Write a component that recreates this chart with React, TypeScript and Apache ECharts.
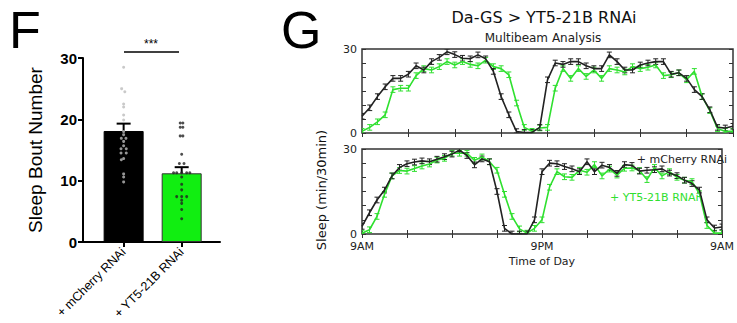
import React, { useEffect, useRef } from "react";
import * as echarts from "echarts";

// ---------- Panel F data ----------
const BAR_CATEGORIES = ["+ mCherry RNAi", "+ YT5-21B RNAi"];
const BAR_MEANS = [18.1, 11.2];
const BAR_SEMS = [1.2, 1.0];
const MCHERRY_DOTS = [28.5, 25, 24.5, 22.5, 22, 20.7, 19.9, 18, 17.5, 16.9, 16.9, 16.4, 15.7, 15.2, 15.2, 14.5, 14.5, 13.6, 13.4, 11.1, 10.6, 9.8];
const MCHERRY_JITTER = [0, -0.035, 0.02, 0, 0, 0, 0, 0, 0, -0.04, 0.04, 0, 0, -0.045, 0.045, -0.045, 0.045, 0, -0.04, 0, 0, 0];
const YT5_DOTS = [19.4, 19.4, 18.7, 18.7, 17.3, 17.3, 14.3, 12.8, 12.8, 11.3, 11.3, 11.3, 11.3, 11.3, 10.6, 9.4, 8.5, 7.4, 7.4, 7.4, 6.8, 6.3, 5.3, 3.8];
const YT5_JITTER = [-0.025, 0.02, -0.025, 0.02, -0.025, 0.02, 0, -0.04, 0.04, -0.14, -0.086, 0, 0.086, 0.14, 0, 0, 0, -0.086, 0, 0.086, 0, 0, 0, 0];

// ---------- Panel G data (sleep min/30min, 9AM -> 9AM, 30-min bins) ----------
const TOP_BLACK = [6, 9, 13, 16.5, 19.5, 19.5, 21, 24, 22.5, 25.5, 27, 29, 28, 26.7, 26.5, 27.9, 26.5, 22, 13, 6.5, 0.5, 0.2, 0.2, 2, 19, 25, 24.5, 25.5, 25.5, 24, 23, 23, 27.9, 25.5, 22.5, 22.5, 24.3, 25, 25.5, 25.5, 21, 21.5, 19.5, 15.5, 13, 8.3, 2, 1.8, 2.4];
const TOP_GREEN = [0.6, 2, 4, 6.5, 15.5, 16, 16, 20.5, 23, 22.5, 23.7, 25.5, 24.3, 25.5, 24.5, 24, 26, 23.7, 23, 20.8, 10.7, 2, 0.6, 1.8, 2, 16, 23, 19.5, 23, 20.2, 22.5, 19.5, 23, 22.5, 21.8, 23.7, 23, 23.5, 24.3, 20.5, 20.8, 21.5, 19, 22, 13, 8, 1.5, 0.6, 0.6];
const BOT_BLACK = [2.7, 7.5, 12, 15.5, 20.5, 23.5, 24.8, 25.4, 25.8, 25.5, 26.4, 27.3, 28.2, 29.6, 27.7, 24.4, 26.5, 25.5, 15, 2, 0, 0, 0, 5, 22, 25, 24.8, 23.8, 23, 22, 25.5, 22, 24.3, 23.5, 21.4, 24.5, 24.2, 22.2, 22.5, 22.7, 23, 21.5, 20.6, 19, 17.8, 15.5, 5, 2.1, 2.5];
const BOT_GREEN = [0.3, 1.5, 6.2, 14, 20.5, 22.4, 22.2, 23.1, 24, 24.7, 26.1, 26.7, 28.5, 28.5, 28.5, 26, 27.2, 25.5, 22.5, 14, 6.2, 1.8, 0.3, 2, 5, 16.5, 22, 20.2, 20, 22.5, 21.8, 24.5, 20.5, 22.9, 20.8, 23.2, 23.3, 22.4, 19.2, 23.5, 20.5, 22, 20, 19, 18.5, 14.2, 3, 0.3, 0.3];
const SEM_G = 1.0;
const TIME_LABELS: Record<number, string> = { 0: "9AM", 12: "9PM", 24: "9AM" };

const FONT_F = "'Liberation Sans', Arial, sans-serif";
const FONT_G = "'DejaVu Sans', sans-serif";
const BLACK = "#222222";
const GREEN = "#2fe02f";

export default function App() {
  const ref = useRef<HTMLDivElement>(null);
  useEffect(() => {
    if (!ref.current) return;
    const chart = echarts.init(ref.current, null, { renderer: "svg" });
    const hours = TOP_BLACK.map((_, i) => i * 0.5);

    const errRenderG = (color: string) => (params: any, api: any) => {
      const x = api.value(0), v = api.value(1), e = api.value(2);
      const a = api.coord([x, v + e]);
      const b = api.coord([x, Math.max(v - e, 0)]);
      const hw = 2.5;
      const st = { stroke: color, lineWidth: 1 };
      return {
        type: "group",
        children: [
          { type: "line", shape: { x1: a[0], y1: a[1], x2: b[0], y2: b[1] }, style: st },
          { type: "line", shape: { x1: a[0] - hw, y1: a[1], x2: a[0] + hw, y2: a[1] }, style: st },
          { type: "line", shape: { x1: b[0] - hw, y1: b[1], x2: b[0] + hw, y2: b[1] }, style: st },
        ],
      };
    };

    const gXAxis = (gridIndex: number, position: string, labels: boolean) => ({
      type: "value",
      gridIndex,
      position,
      min: 0,
      max: 24,
      interval: 3,
      axisLine: { show: false },
      axisTick: { show: true, inside: true, length: 4, lineStyle: { color: "#333", width: 1 } },
      axisLabel: labels
        ? {
            show: true,
            showMaxLabel: true,
            margin: 7,
            fontFamily: FONT_G,
            fontSize: 11,
            color: "#222",
            formatter: (v: number) => TIME_LABELS[v] ?? "",
          }
        : { show: false },
      splitLine: { show: false },
      ...(labels
        ? {
            name: "Time of Day",
            nameLocation: "middle",
            nameGap: 22,
            nameTextStyle: { fontFamily: FONT_G, fontSize: 11, color: "#222" },
          }
        : {}),
    });
    const gYAxis = (gridIndex: number, position: string, labels: boolean) => ({
      type: "value",
      gridIndex,
      position,
      min: 0,
      max: 30,
      interval: 5,
      axisLine: { show: false, onZero: false },
      axisTick: { show: true, inside: true, length: 4, lineStyle: { color: "#333", width: 1 } },
      axisLabel: labels
        ? {
            show: true,
            margin: 5,
            fontFamily: FONT_G,
            fontSize: 11,
            color: "#222",
            formatter: (v: number) => (v === 0 || v === 30 ? String(v) : ""),
          }
        : { show: false },
      splitLine: { show: false },
    });

    const line = (data: number[], color: string, xi: number, yi: number) => ({
      type: "line",
      xAxisIndex: xi,
      yAxisIndex: yi,
      data: hours.map((h, i) => [h, data[i]]),
      showSymbol: false,
      lineStyle: { color, width: 1.6 },
      itemStyle: { color },
      z: 3,
    });
    const errs = (data: number[], color: string, xi: number, yi: number) => ({
      type: "custom",
      xAxisIndex: xi,
      yAxisIndex: yi,
      clip: true,
      data: hours.map((h, i) => [h, data[i], SEM_G]),
      encode: { x: 0, y: 1 },
      renderItem: errRenderG(color),
      z: 3,
    });

    chart.setOption({
      animation: false,
      grid: [
        { left: 83, top: 58, width: 137, height: 184 },
        { left: 362, top: 49, width: 371, height: 84, show: true, borderColor: "#333", borderWidth: 1.5 },
        { left: 362, top: 149, width: 371, height: 85, show: true, borderColor: "#333", borderWidth: 1.5 },
      ],
      xAxis: [
        {
          type: "value",
          gridIndex: 0,
          min: -0.7,
          max: 1.66,
          axisLine: { show: true, onZero: false, lineStyle: { color: "#000", width: 2 } },
          axisTick: { show: true, customValues: [0, 1], length: 5, lineStyle: { color: "#000", width: 2 } },
          axisLabel: {
            customValues: [0, 1],
            rotate: 45,
            margin: 8,
            fontFamily: FONT_F,
            fontSize: 12.5,
            color: "#000",
            formatter: (v: number) => BAR_CATEGORIES[Math.round(v)] ?? "",
          },
          splitLine: { show: false },
        },
        gXAxis(1, "bottom", false),
        gXAxis(1, "top", false),
        gXAxis(2, "bottom", true),
        gXAxis(2, "top", false),
      ],
      yAxis: [
        {
          type: "value",
          gridIndex: 0,
          min: 0,
          max: 30,
          interval: 10,
          axisLine: { show: true, onZero: false, lineStyle: { color: "#000", width: 2 } },
          axisTick: { show: true, length: 5, lineStyle: { color: "#000", width: 2 } },
          axisLabel: { fontFamily: FONT_F, fontSize: 15, fontWeight: "bold", color: "#000", margin: 6 },
          splitLine: { show: false },
          name: "Sleep Bout Number",
          nameLocation: "middle",
          nameGap: 38,
          nameTextStyle: { fontFamily: FONT_F, fontSize: 19, color: "#000" },
        },
        gYAxis(1, "left", true),
        gYAxis(1, "right", false),
        gYAxis(2, "left", true),
        gYAxis(2, "right", false),
      ],
      series: [
        {
          type: "bar",
          xAxisIndex: 0,
          yAxisIndex: 0,
          barWidth: 40,
          data: [
            { value: [0, BAR_MEANS[0]], itemStyle: { color: "#000", borderColor: "#000", borderWidth: 1 } },
            { value: [1, BAR_MEANS[1]], itemStyle: { color: "#11ee11", borderColor: "#333", borderWidth: 1 } },
          ],
          z: 2,
        },
        {
          type: "custom",
          xAxisIndex: 0,
          yAxisIndex: 0,
          data: BAR_MEANS.map((m, i) => [i, m, BAR_SEMS[i]]),
          encode: { x: 0, y: 1 },
          renderItem: (params: any, api: any) => {
            const x = api.value(0), m = api.value(1), s = api.value(2);
            const p0 = api.coord([x, m]);
            const p1 = api.coord([x, m + s]);
            const st = { stroke: "#000", lineWidth: 2 };
            return {
              type: "group",
              children: [
                { type: "line", shape: { x1: p0[0], y1: p0[1], x2: p1[0], y2: p1[1] }, style: st },
                { type: "line", shape: { x1: p1[0] - 7, y1: p1[1], x2: p1[0] + 7, y2: p1[1] }, style: st },
              ],
            };
          },
          z: 3,
        },
        {
          type: "scatter",
          xAxisIndex: 0,
          yAxisIndex: 0,
          symbolSize: 3,
          itemStyle: { color: "#bbbbbb" },
          data: MCHERRY_DOTS.map((v, i) => [MCHERRY_JITTER[i], v]),
          z: 4,
        },
        {
          type: "scatter",
          xAxisIndex: 0,
          yAxisIndex: 0,
          symbolSize: 3,
          itemStyle: { color: "#222" },
          data: YT5_DOTS.map((v, i) => [1 + YT5_JITTER[i], v]),
          z: 4,
        },
        line(TOP_GREEN, GREEN, 1, 1),
        errs(TOP_GREEN, GREEN, 1, 1),
        line(TOP_BLACK, BLACK, 1, 1),
        errs(TOP_BLACK, BLACK, 1, 1),
        line(BOT_GREEN, GREEN, 3, 3),
        errs(BOT_GREEN, GREEN, 3, 3),
        line(BOT_BLACK, BLACK, 3, 3),
        errs(BOT_BLACK, BLACK, 3, 3),
      ],
      graphic: [
        { type: "text", left: 9, top: 4, style: { text: "F", fontFamily: FONT_F, fontSize: 52, fill: "#000" } },
        { type: "text", left: 281, top: 4, style: { text: "G", fontFamily: FONT_F, fontSize: 52, fill: "#000" } },
        { type: "line", shape: { x1: 124, y1: 52, x2: 179, y2: 52 }, style: { stroke: "#000", lineWidth: 1.5 } },
        { type: "text", x: 151, y: 44, style: { text: "***", fontFamily: FONT_F, fontSize: 12, fill: "#000", align: "center", verticalAlign: "middle" } },
        { type: "text", x: 544, y: 17, style: { text: "Da-GS > YT5-21B RNAi", fontFamily: FONT_G, fontSize: 16, fill: "#111", align: "center", verticalAlign: "middle" } },
        { type: "text", x: 543, y: 38, style: { text: "Multibeam Analysis", fontFamily: FONT_G, fontSize: 12, fill: "#222", align: "center", verticalAlign: "middle" } },
        { type: "text", x: 321, y: 190, rotation: Math.PI / 2, style: { text: "Sleep (min/30min)", fontFamily: FONT_G, fontSize: 13, fill: "#111", align: "center", verticalAlign: "middle" } },
        { type: "text", x: 727, y: 159, z: 10, style: { text: "+ mCherry RNAi", fontFamily: FONT_G, fontSize: 11, fill: "#222", align: "right", verticalAlign: "middle" } },
        { type: "text", x: 610, y: 197, z: 10, style: { text: "+ YT5-21B RNAi", fontFamily: FONT_G, fontSize: 11, fill: GREEN, align: "left", verticalAlign: "middle" } },
      ],
    });
    return () => chart.dispose();
  }, []);
  return <div ref={ref} style={{ position: "absolute", left: 0, top: 0, width: 737, height: 323 }} />;
}
